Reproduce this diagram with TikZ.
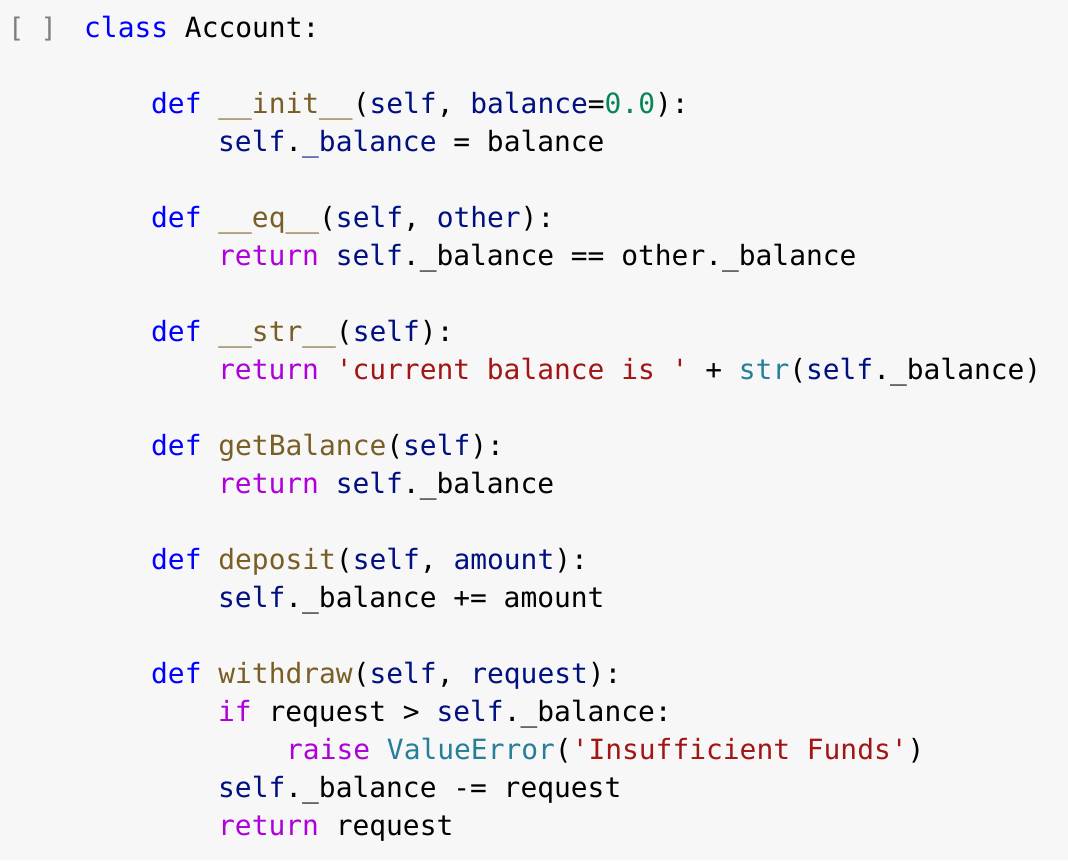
\documentclass[tikz,border=0pt]{standalone}
\usepackage{fontspec}
\setmonofont{DejaVu Sans Mono}
\definecolor{bgc}{HTML}{F7F7F7}
\definecolor{kwc}{HTML}{0000FF}
\definecolor{fnc}{HTML}{795E26}
\definecolor{vrc}{HTML}{001080}
\definecolor{nmc}{HTML}{098658}
\definecolor{rtc}{HTML}{AF00DB}
\definecolor{stc}{HTML}{A31515}
\definecolor{bic}{HTML}{267F99}
\newcommand\ckw[1]{\textcolor{kwc}{#1}}
\newcommand\cfn[1]{\textcolor{fnc}{#1}}
\newcommand\cvr[1]{\textcolor{vrc}{#1}}
\newcommand\cnm[1]{\textcolor{nmc}{#1}}
\newcommand\crt[1]{\textcolor{rtc}{#1}}
\newcommand\cst[1]{\textcolor{stc}{#1}}
\newcommand\cbi[1]{\textcolor{bic}{#1}}
\begin{document}
\begin{tikzpicture}[x=1pt,y=-1pt,
  code/.style={anchor=base west,inner sep=0pt,font=\ttfamily\fontsize{27.9}{30}\selectfont,text=black}]
\fill[bgc] (0,0) rectangle (1068,860);
\useasboundingbox (0,0) rectangle (1068,860);
\node[code,text=gray,font=\ttfamily\fontsize{27}{30}\selectfont] (p) at (8,37) {[ ]};
\node[code] (l1) at (84,37) {\ckw{class} Account:};
\node[code] (l2) at (151,113) {\ckw{def} \cfn{\_\_init\_\_}(\cvr{self}, \cvr{balance}=\cnm{0.0}):};
\node[code] (l3) at (218,151) {\cvr{self}.\cvr{\_balance} = balance};
\node[code] (l4) at (151,227) {\ckw{def} \cfn{\_\_eq\_\_}(\cvr{self}, \cvr{other}):};
\node[code] (l5) at (218,265) {\crt{return} \cvr{self}.\_balance == other.\_balance};
\node[code] (l6) at (151,341) {\ckw{def} \cfn{\_\_str\_\_}(\cvr{self}):};
\node[code] (l7) at (218,379) {\crt{return} \cst{'current balance is '} + \cbi{str}(\cvr{self}.\_balance)};
\node[code] (l8) at (151,455) {\ckw{def} \cfn{getBalance}(\cvr{self}):};
\node[code] (l9) at (218,493) {\crt{return} \cvr{self}.\_balance};
\node[code] (l10) at (151,569) {\ckw{def} \cfn{deposit}(\cvr{self}, \cvr{amount}):};
\node[code] (l11) at (218,607) {\cvr{self}.\_balance += amount};
\node[code] (l12) at (151,683) {\ckw{def} \cfn{withdraw}(\cvr{self}, \cvr{request}):};
\node[code] (l13) at (218,721) {\crt{if} request > \cvr{self}.\_balance:};
\node[code] (l14) at (286,759) {\crt{raise} \cbi{ValueError}(\cst{'Insufficient Funds'})};
\node[code] (l15) at (218,797) {\cvr{self}.\_balance -= request};
\node[code] (l16) at (218,835) {\crt{return} request};
\end{tikzpicture}
\end{document}
